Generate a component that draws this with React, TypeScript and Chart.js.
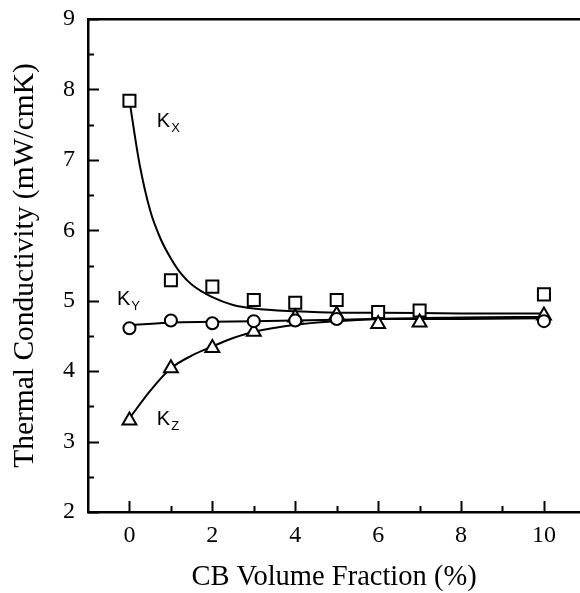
import React, { useEffect, useRef } from "react";
import { Chart, registerables } from "chart.js";

Chart.register(...registerables);

// Measured data (CB volume fraction %)
const kxX = [0, 1, 2, 3, 4, 5, 6, 7, 10];
const kxY = [7.84, 5.29, 5.2, 5.01, 4.97, 5.01, 4.84, 4.86, 5.09];
const kyX = [0, 1, 2, 3, 4, 5, 10];
const kyY = [4.61, 4.72, 4.68, 4.71, 4.72, 4.74, 4.71];
const kzX = [0, 1, 2, 3, 4, 5, 6, 7, 10];
const kzY = [3.3, 4.04, 4.33, 4.56, 4.76, 4.8, 4.67, 4.69, 4.79];

// Fitted curves
const kxFitX = [0, 0.125, 0.25, 0.5, 0.75, 1, 1.25, 1.5, 2, 2.5, 3, 4, 5, 6, 8, 10];
const kxFitY = [7.85, 7.36, 6.92, 6.28, 5.88, 5.6, 5.38, 5.23, 5.05, 4.94, 4.89, 4.85, 4.83, 4.83, 4.82, 4.82];
const kyFitX = [0, 1, 2, 3, 4, 5, 6, 8, 10];
const kyFitY = [4.65, 4.69, 4.7, 4.71, 4.72, 4.73, 4.74, 4.74, 4.75];
const kzFitX = [0, 0.5, 1, 1.5, 2, 2.5, 3, 4, 5, 6, 8, 10];
const kzFitY = [3.33, 3.72, 4.04, 4.22, 4.35, 4.47, 4.56, 4.66, 4.71, 4.74, 4.76, 4.77];

// Axis ticks
const xMajorTicks = [0, 2, 4, 6, 8, 10];
const xMinorTicks = [1, 3, 5, 7, 9];
const yMajorTicks = [2, 3, 4, 5, 6, 7, 8, 9];
const yMinorTicks = [2.5, 3.5, 4.5, 5.5, 6.5, 7.5, 8.5];

// Curve labels
const curveLabels = [
  { main: "K", sub: "X", x: 0.66, y: 7.47 },
  { main: "K", sub: "Y", x: -0.3, y: 4.94 },
  { main: "K", sub: "Z", x: 0.66, y: 3.23 },
];

const SERIF = "'Liberation Serif', 'Times New Roman', serif";
const SANS = "'Liberation Sans', Arial, sans-serif";

const pts = (xs: number[], ys: number[]) => xs.map((x, i) => ({ x, y: ys[i] }));

const zeroPad = (s: any) => {
  s.paddingTop = 0;
  s.paddingBottom = 0;
  s.paddingLeft = 0;
  s.paddingRight = 0;
};

const decorPlugin = {
  id: "decor",
  afterDatasetsDraw(chart: any) {
    const { ctx, scales } = chart;
    const xs = scales.x;
    const ys = scales.y;
    const bottom = ys.getPixelForValue(2);
    const left = xs.getPixelForValue(-1);
    ctx.save();
    ctx.strokeStyle = "#000";
    ctx.lineWidth = 2;
    const drawX = (vals: number[], len: number) => {
      vals.forEach((v) => {
        const px = Math.round(xs.getPixelForValue(v)) + 0.5;
        ctx.beginPath();
        ctx.moveTo(px, bottom);
        ctx.lineTo(px, bottom - len);
        ctx.stroke();
      });
    };
    const drawY = (vals: number[], len: number) => {
      vals.forEach((v) => {
        const py = Math.round(ys.getPixelForValue(v)) + 0.5;
        ctx.beginPath();
        ctx.moveTo(left, py);
        ctx.lineTo(left + len, py);
        ctx.stroke();
      });
    };
    drawX(xMajorTicks, 11);
    drawX(xMinorTicks, 6);
    drawY(yMajorTicks, 11);
    drawY(yMinorTicks, 6);

    ctx.fillStyle = "#000";
    ctx.textBaseline = "alphabetic";
    ctx.textAlign = "left";
    curveLabels.forEach((l) => {
      const px = xs.getPixelForValue(l.x);
      const py = ys.getPixelForValue(l.y);
      ctx.font = `20px ${SANS}`;
      ctx.fillText(l.main, px, py);
      const w = ctx.measureText(l.main).width;
      ctx.font = `13px ${SANS}`;
      ctx.fillText(l.sub, px + w + 1, py + 5);
    });
    ctx.restore();
  },
};

export default function App() {
  const ref = useRef<HTMLCanvasElement>(null);
  useEffect(() => {
    if (!ref.current) return;
    const scatterCommon = {
      type: "scatter" as const,
      showLine: false,
      borderColor: "#000",
      backgroundColor: "#fff",
      pointBorderWidth: 2,
      order: 1,
    };
    const lineCommon = {
      type: "line" as const,
      borderColor: "#000",
      borderWidth: 2,
      pointRadius: 0,
      fill: false,
      cubicInterpolationMode: "monotone" as const,
      order: 2,
    };
    const chart = new Chart(ref.current, {
      type: "scatter",
      data: {
        datasets: [
          { ...lineCommon, label: "Kx fit", data: pts(kxFitX, kxFitY) },
          { ...lineCommon, label: "Ky fit", data: pts(kyFitX, kyFitY) },
          { ...lineCommon, label: "Kz fit", data: pts(kzFitX, kzFitY) },
          { ...scatterCommon, label: "Ky", data: pts(kyX, kyY), pointStyle: "circle", pointRadius: 6 },
          { ...scatterCommon, label: "Kz", data: pts(kzX, kzY), pointStyle: "triangle", pointRadius: 8 },
          { ...scatterCommon, label: "Kx", data: pts(kxX, kxY), pointStyle: "rect", pointRadius: 8.5 },
        ] as any,
      },
      options: {
        animation: false,
        responsive: false,
        layout: { padding: 0, autoPadding: false },
        plugins: { legend: { display: false }, tooltip: { enabled: false } },
        scales: {
          x: {
            type: "linear",
            position: "bottom",
            min: -1,
            max: 10.87,
            afterBuildTicks: (s: any) => {
              s.ticks = xMajorTicks.map((v) => ({ value: v }));
            },
            afterFit: (s: any) => {
              s.height = 81;
              zeroPad(s);
            },
            grid: { display: false, drawTicks: false },
            border: { display: true, color: "#000", width: 2.5 },
            ticks: {
              color: "#000",
              font: { family: SERIF, size: 24 },
              padding: 9,
              maxRotation: 0,
              autoSkip: false,
            },
            title: {
              display: true,
              text: "CB Volume Fraction (%)",
              color: "#000",
              font: { family: SERIF, size: 28.5, lineHeight: 1 },
              padding: { top: 0, bottom: 1 },
            },
          },
          x2: {
            type: "linear",
            position: "top",
            min: -1,
            max: 10.87,
            afterFit: (s: any) => {
              s.height = 19;
              zeroPad(s);
            },
            grid: { display: false, drawTicks: false },
            border: { display: true, color: "#000", width: 2.5 },
            ticks: { display: false },
          },
          y: {
            type: "linear",
            position: "left",
            min: 2,
            max: 9,
            afterBuildTicks: (s: any) => {
              s.ticks = yMajorTicks.map((v) => ({ value: v }));
            },
            afterFit: (s: any) => {
              s.width = 88;
              zeroPad(s);
            },
            grid: { display: false, drawTicks: false },
            border: { display: true, color: "#000", width: 2.5 },
            ticks: {
              color: "#000",
              font: { family: SERIF, size: 24 },
              padding: 13,
              autoSkip: false,
            },
            title: {
              display: true,
              text: "Thermal Conductivity (mW/cmK)",
              color: "#000",
              font: { family: SERIF, size: 29.5, lineHeight: 1 },
              padding: { top: 10, bottom: 0 },
            },
          },
        },
      },
      plugins: [decorPlugin],
    });
    return () => chart.destroy();
  }, []);

  return (
    <div style={{ position: "fixed", left: 0, top: 0, width: 580, height: 593, background: "#fff" }}>
      <canvas ref={ref} width={580} height={593} style={{ width: 580, height: 593, display: "block" }} />
    </div>
  );
}
